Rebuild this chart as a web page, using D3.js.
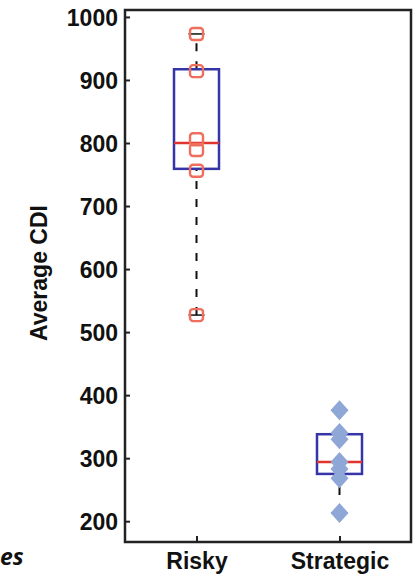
<!DOCTYPE html>
<html>
<head>
<meta charset="utf-8">
<script src="https://cdn.jsdelivr.net/npm/d3@7"></script>
<style>
  body { margin: 0; background: #fff; }
  svg { display: block; }
  svg text { font-family: Arial, "Liberation Sans", sans-serif; }
</style>
</head>
<body>
<svg width="419" height="576"></svg>
<script>
const width = 419,
  height = 576;
const svg = d3.select('svg');

// Data
const groups = ['Risky', 'Strategic'];
const riskyValues = [973, 914, 806, 789, 756, 527];
const strategicValues = [376, 340, 330, 294, 283, 268, 213];
// box stats: [lower whisker, q1, median, q3, upper whisker]
const riskyStats = [527, 759, 800, 917, 973];
const strategicStats = [213, 275, 294, 338, 376];
const yTicks = [200, 300, 400, 500, 600, 700, 800, 900, 1000];

const margin = { top: 10, right: 8, bottom: 34, left: 125 };
const x = d3
  .scalePoint()
  .domain(groups)
  .range([margin.left, width - margin.right])
  .padding(0.5);
const y = d3
  .scaleLinear()
  .domain([167, 1011])
  .range([height - margin.bottom, margin.top]);

const series = [
  { name: 'Risky', values: riskyValues, stats: riskyStats },
  { name: 'Strategic', values: strategicValues, stats: strategicStats },
];

// Frame
svg
  .append('rect')
  .attr('x', margin.left)
  .attr('y', margin.top)
  .attr('width', width - margin.left - margin.right)
  .attr('height', height - margin.top - margin.bottom)
  .attr('fill', 'none')
  .attr('stroke', '#222')
  .attr('stroke-width', 2.5);

// Y axis, ticks point inward
const yAxis = svg
  .append('g')
  .attr('transform', `translate(${margin.left},0)`)
  .call(
    d3
      .axisLeft(y)
      .tickValues(yTicks)
      .tickFormat(d3.format('d'))
      .tickSizeInner(-5)
      .tickSizeOuter(0)
      .tickPadding(7)
  );
yAxis.attr('font-family', null);
yAxis.select('.domain').remove();
yAxis.selectAll('line').attr('stroke', '#222').attr('stroke-width', 2);
yAxis
  .selectAll('text')
  .attr('font-size', 23)
  .attr('font-weight', 'bold')
  .attr('dy', '0.36em')
  .attr('fill', '#111');

// X axis (ticks point inward)
const xAxis = svg
  .append('g')
  .attr('transform', `translate(0,${height - margin.bottom})`)
  .call(d3.axisBottom(x).tickSizeInner(-6).tickSizeOuter(0).tickPadding(11));
xAxis.attr('font-family', null);
xAxis.select('.domain').remove();
xAxis.selectAll('line').attr('stroke', '#222').attr('stroke-width', 2);
xAxis
  .selectAll('text')
  .attr('font-size', 23)
  .attr('font-weight', 'bold')
  .attr('fill', '#111');

// Y label
svg
  .append('text')
  .attr('transform', 'translate(47,273) rotate(-90)')
  .attr('text-anchor', 'middle')
  .attr('font-size', 23)
  .attr('font-weight', 'bold')
  .attr('fill', '#111')
  .text('Average CDI');

// Cut-off text from neighbouring panel
svg
  .append('text')
  .attr('x', 0)
  .attr('y', 565)
  .attr('font-size', 23)
  .attr('font-weight', 'bold')
  .attr('font-style', 'italic')
  .style('font-family', '"Open Sans", sans-serif')
  .attr('fill', '#111')
  .text('es');

const boxW = 45;
const capW = 16;

series.forEach((s) => {
  const cx = x(s.name);
  const [lo, q1, med, q3, hi] = s.stats;
  const g = svg.append('g');

  // whiskers
  g.selectAll('line.whisker')
    .data([
      [lo, q1],
      [q3, hi],
    ])
    .join('line')
    .attr('class', 'whisker')
    .attr('x1', cx)
    .attr('x2', cx)
    .attr('y1', (d) => y(d[0]))
    .attr('y2', (d) => y(d[1]))
    .attr('stroke', '#111')
    .attr('stroke-width', 2)
    .attr('stroke-dasharray', '8,10');

  // caps
  g.selectAll('line.cap')
    .data([lo, hi])
    .join('line')
    .attr('class', 'cap')
    .attr('x1', cx - capW / 2)
    .attr('x2', cx + capW / 2)
    .attr('y1', (d) => y(d))
    .attr('y2', (d) => y(d))
    .attr('stroke', '#111')
    .attr('stroke-width', 1.5);

  // box
  g.append('rect')
    .attr('x', cx - boxW / 2)
    .attr('y', y(q3))
    .attr('width', boxW)
    .attr('height', y(q1) - y(q3))
    .attr('fill', 'none')
    .attr('stroke', '#3535a8')
    .attr('stroke-width', 2.5);

  // median
  g.append('line')
    .attr('x1', cx - boxW / 2)
    .attr('x2', cx + boxW / 2)
    .attr('y1', y(med))
    .attr('y2', y(med))
    .attr('stroke', '#e0352e')
    .attr('stroke-width', 2.5);
});

// Risky points: hollow rounded squares
svg
  .append('g')
  .selectAll('rect')
  .data(riskyValues)
  .join('rect')
  .attr('x', x('Risky') - 6.5)
  .attr('y', (d) => y(d) - 6)
  .attr('width', 13)
  .attr('height', 12)
  .attr('rx', 3)
  .attr('fill', 'none')
  .attr('stroke', '#ef6e5e')
  .attr('stroke-width', 2.4);

// Strategic points: filled diamonds
svg
  .append('g')
  .selectAll('path')
  .data(strategicValues)
  .join('path')
  .attr('transform', (d) => `translate(${x('Strategic')},${y(d)})`)
  .attr('d', 'M0,-10L9,0L0,10L-9,0Z')
  .attr('fill', '#8fa7d6');
</script>
</body>
</html>
